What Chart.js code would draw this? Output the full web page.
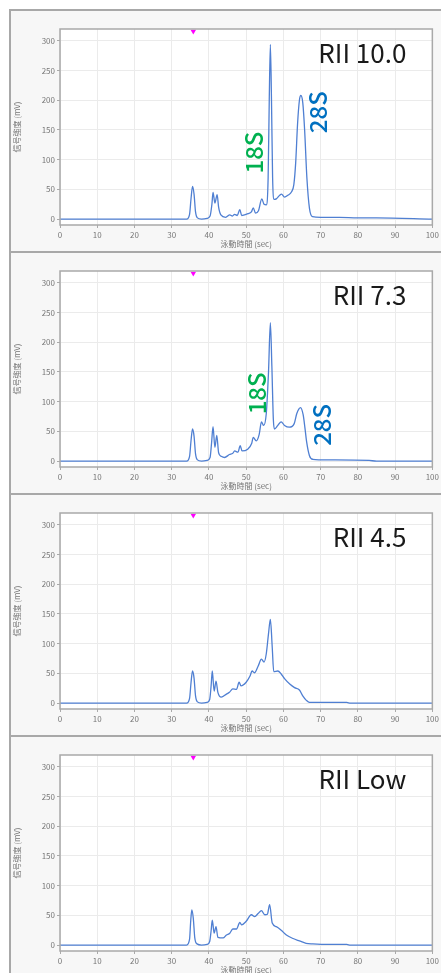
<!DOCTYPE html>
<html><head><meta charset="utf-8">
<script src="https://cdn.jsdelivr.net/npm/chart.js@4/dist/chart.umd.min.js"></script>
<style>
body{margin:0;background:#fff;width:441px;height:973px;overflow:hidden;position:relative}
.panel{position:absolute;left:9px;width:440px;height:240px;background:#f7f7f7;border-left:2px solid #a8a8a8;border-top:2px solid #a8a8a8}
canvas{position:absolute;left:9px}
</style></head><body>
<script>
// ---- data (time sec, signal mV) ----
const rii100 = [[0,0],[34,0],[34.8,8],[35.2,35],[35.6,55],[36.0,42],[36.4,12],[36.9,2],[38,0],[39.5,1],[40.3,5],[40.8,25],[41.1,45],[41.6,27],[42.2,41],[42.6,20],[43.2,7],[44.5,3],[45.6,7],[46.3,5],[46.9,8],[47.6,6],[48.3,16],[48.8,6],[49.5,7],[50.5,9],[51.4,12],[51.9,19],[52.5,10],[53.3,14],[54.2,34],[54.8,25],[55.4,24],[55.9,70],[56.2,200],[56.5,294],[56.8,200],[57.1,70],[57.5,33],[58.1,34],[59.0,40],[59.5,42],[60.3,37],[61.2,40],[62.2,46],[62.8,58],[63.3,95],[63.8,160],[64.3,200],[64.7,208],[65.2,196],[65.7,150],[66.3,70],[67.0,18],[67.8,4],[70,3],[75,3],[80,2],[85,2],[100,0]];
const rii73 = [[0,0],[34,0],[34.8,8],[35.2,35],[35.6,54],[36.0,42],[36.4,12],[36.9,2],[38,0],[39.5,1],[40.3,6],[40.7,30],[41.1,58],[41.6,23],[42.1,43],[42.6,14],[43.3,8],[44.2,6],[45.5,11],[46.4,13],[46.9,17],[47.8,15],[48.4,26],[48.9,17],[50.4,20],[51.5,30],[51.9,40],[52.7,34],[53.5,45],[54.1,66],[54.7,60],[55.4,80],[56.0,150],[56.5,233],[56.9,160],[57.3,70],[57.6,54],[58.5,60],[59.4,66],[60.3,60],[61.6,57],[62.9,63],[63.6,80],[64.6,90],[65.3,78],[65.8,55],[66.2,34],[67.0,9],[67.9,3],[72,2],[83,1],[85,0],[100,0]];
const rii45 = [[0,0],[34,0],[34.8,8],[35.2,35],[35.6,54],[36.0,42],[36.4,12],[36.9,2],[38,0],[39.5,1],[40.2,6],[40.6,30],[40.9,54],[41.4,20],[41.9,37],[42.4,18],[43.3,10],[44.7,15],[45.5,18],[46.4,24],[47.4,23],[48.1,35],[48.6,29],[50.0,35],[51.0,45],[51.6,54],[52.2,51],[53.2,62],[54.1,74],[54.8,69],[55.4,83],[56.0,117],[56.5,141],[57.0,94],[57.4,53],[58.5,54],[59.4,49],[60.3,41],[61.7,32],[63.0,26],[64.3,22],[65.2,12],[66.1,5],[67.0,1],[77,1],[78,0],[100,0]];
const riiLow = [[0,0],[34,0],[34.8,10],[35.1,40],[35.4,59],[35.8,45],[36.2,12],[36.8,2],[38,0],[39.5,1],[40.2,6],[40.6,25],[40.9,42],[41.4,20],[41.9,31],[42.4,13],[43.8,12],[44.7,17],[45.6,20],[46.4,27],[47.4,27],[48.3,38],[48.8,34],[50.0,40],[51.4,51],[52.3,48],[53.2,53],[54.1,58],[55.0,51],[55.7,52],[56.3,68],[57.0,37],[58.1,31],[59.4,25],[60.8,17],[62.6,11],[64.3,7],[66.1,3],[67.9,2],[72,1],[77,1],[78,0],[100,0]];
const series = [rii100, rii73, rii45, riiLow];
const panelLabels = ['RII 10.0', 'RII 7.3', 'RII 4.5', 'RII Low'];
const markerTime = [35.8];
const markerLevel = [316];
const xTicks = [0,10,20,30,40,50,60,70,80,90,100];
const yTicks = [0,50,100,150,200,250,300];
// peak annotations per panel: [text, x, y, colour]
const peakNotes = [
  [['18S', 52.0, 112, '#00b050'], ['28S', 69.2, 180, '#0070c0']],
  [['18S', 52.8, 114, '#00b050'], ['28S', 70.2, 61, '#0070c0']],
  [], []
];
const xTitle = '泳動時間 (sec)';
const yTitle = '信号強度 (mV)';

const FONT = "'Noto Sans CJK JP','Noto Sans',sans-serif";

const framePlugin = {
  id: 'frame',
  beforeDraw(chart) {
    const {ctx, chartArea: a} = chart;
    ctx.save(); ctx.fillStyle = '#fff';
    ctx.fillRect(a.left, a.top, a.right - a.left, a.bottom - a.top);
    ctx.restore();
  },
  afterDraw(chart) {
    const {ctx, chartArea: a} = chart;
    const o = chart.options.plugins.frame;
    ctx.save();
    ctx.strokeStyle = '#a9a9a9'; ctx.lineWidth = 1.5;
    ctx.strokeRect(a.left, a.top, a.right - a.left, a.bottom - a.top);
    // panel label
    ctx.fillStyle = '#1a1a1a';
    ctx.font = "400 26px " + FONT;
    ctx.textAlign = 'right'; ctx.textBaseline = 'alphabetic';
    ctx.fillText(o.label, a.right - 26, a.top + 34);
    // peak notes
    const xs = chart.scales.x, ys = chart.scales.y;
    for (const [t, xv, yv, col] of o.notes) {
      ctx.save();
      ctx.translate(xs.getPixelForValue(xv), ys.getPixelForValue(yv));
      ctx.rotate(-Math.PI / 2);
      ctx.fillStyle = col;
      ctx.font = "500 24px " + FONT;
      ctx.textAlign = 'center'; ctx.textBaseline = 'middle';
      ctx.fillText(t, 0, 0);
      ctx.restore();
    }
    ctx.restore();
  }
};

series.forEach((s, i) => {
  const bg = document.createElement('div');
  bg.className = 'panel';
  bg.style.top = (9 + 242 * i) + 'px';
  document.body.appendChild(bg);
  const cv = document.createElement('canvas');
  cv.width = 432; cv.height = 242;
  cv.style.top = (9 + 242 * i) + 'px';
  document.body.appendChild(cv);
  new Chart(cv, {
    type: 'line',
    data: {
      datasets: [
        {
          data: s.map(p => ({x: p[0], y: p[1]})),
          borderColor: '#4f7fd2', borderWidth: 1.3,
          pointRadius: 0, cubicInterpolationMode: 'monotone', fill: false
        },
        {
          data: markerTime.map((t, k) => ({x: t, y: markerLevel[k]})),
          showLine: false, pointStyle: 'triangle', rotation: 180,
          pointRadius: 3.2, backgroundColor: '#ff00ff', borderColor: '#ff00ff',
          borderWidth: 0, clip: false
        }
      ]
    },
    options: {
      responsive: false, animation: false, devicePixelRatio: 1,
      layout: {padding: {top: 20, right: 8, left: 0, bottom: 0}},
      plugins: {legend: {display: false}, tooltip: {enabled: false},
        frame: {label: panelLabels[i], notes: peakNotes[i]}},
      scales: {
        x: {
          type: 'linear', min: 0, max: 100,
          afterBuildTicks: sc => { sc.ticks = xTicks.map(v => ({value: v})); },
          afterFit: sc => { sc.height = 26; },
          border: {display: false},
          grid: {color: '#ebebeb', tickColor: '#aaa', tickLength: 3},
          ticks: {font: {size: 8, family: FONT}, color: '#777', padding: 2, maxRotation: 0},
          title: {display: true, text: xTitle, font: {size: 8, family: FONT}, color: '#777', padding: {top: 0, bottom: 2}}
        },
        y: {
          min: -10, max: 320,
          afterBuildTicks: sc => { sc.ticks = yTicks.map(v => ({value: v})); },
          afterFit: sc => { sc.width = 51; },
          border: {display: false},
          grid: {color: '#ebebeb', tickColor: '#aaa', tickLength: 3},
          ticks: {font: {size: 8, family: FONT}, color: '#777', padding: 2},
          title: {display: true, text: yTitle, font: {size: 8, family: FONT}, color: '#777', padding: {top: 3, bottom: 0}}
        }
      }
    },
    plugins: [framePlugin]
  });
});
</script>
</body></html>
